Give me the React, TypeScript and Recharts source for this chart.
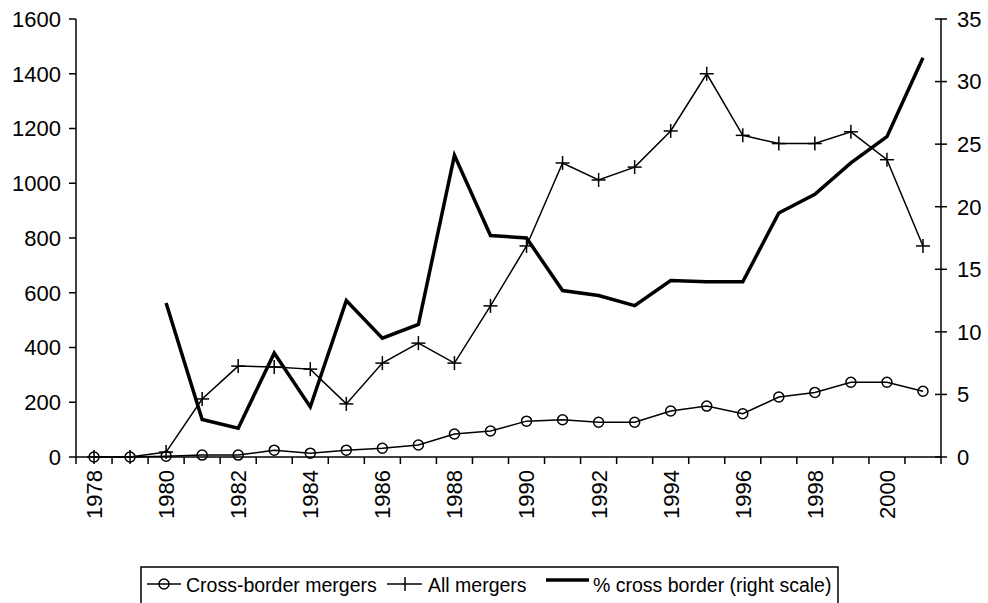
import { ComposedChart, Line, XAxis, YAxis } from "recharts";

const years = [
  1978, 1979, 1980, 1981, 1982, 1983, 1984, 1985, 1986, 1987, 1988, 1989,
  1990, 1991, 1992, 1993, 1994, 1995, 1996, 1997, 1998, 1999, 2000, 2001,
];
const crossBorderMergers = [
  0, 0, 3, 7, 7, 25, 14, 25, 32, 44, 84, 95, 131, 136, 127, 127, 168, 186, 158,
  219, 236, 273, 273, 240,
];
const allMergers = [
  0, 0, 18, 212, 332, 329, 321, 194, 343, 416, 343, 552, 771, 1074, 1012, 1059,
  1191, 1400, 1175, 1145, 1145, 1188, 1086, 771,
];
const pctCrossBorder = [
  null, null, 12.3, 3.0, 2.3, 8.3, 4.0, 12.5, 9.5, 10.6, 24.1, 17.7, 17.5, 13.3,
  12.9, 12.1, 14.1, 14.0, 14.0, 19.5, 21.0, 23.5, 25.6, 31.9,
];
const leftTicks = [0, 200, 400, 600, 800, 1000, 1200, 1400, 1600];
const rightTicks = [0, 5, 10, 15, 20, 25, 30, 35];
const yearLabels = [1978, 1980, 1982, 1984, 1986, 1988, 1990, 1992, 1994, 1996, 1998, 2000];
// category boundaries, where Excel puts the tick marks
const yearBounds = [...years.map((y) => y - 0.5), 2001.5];

const data = years.map((year, i) => ({
  year,
  cross: crossBorderMergers[i],
  all: allMergers[i],
  pct: pctCrossBorder[i],
}));

const FONT = "'Liberation Sans', Arial, sans-serif";
const AXIS_FONT = 22;
const PLOT_BOTTOM = 457;

function YearTick(props: any) {
  const { x, payload } = props;
  const v = payload.value;
  if (v % 1 !== 0) {
    return <line x1={x} x2={x} y1={PLOT_BOTTOM} y2={PLOT_BOTTOM + 7} stroke="#000" strokeWidth={1.5} />;
  }
  const ty = PLOT_BOTTOM + 13;
  return (
    <text
      x={x}
      y={ty}
      transform={`rotate(-90, ${x}, ${ty})`}
      textAnchor="end"
      dy="0.36em"
      fontSize={AXIS_FONT}
      fontFamily={FONT}
      fill="#000"
    >
      {v}
    </text>
  );
}

function RightTick(props: any) {
  const { y, payload } = props;
  const ax = 941;
  return (
    <g>
      <line x1={ax - 6} x2={ax + 6} y1={y} y2={y} stroke="#000" strokeWidth={1.5} />
      <text x={ax + 16} y={y} dy="0.36em" fontSize={AXIS_FONT} fontFamily={FONT} fill="#000">
        {payload.value}
      </text>
    </g>
  );
}

function CrossDot(props: any) {
  const { cx, cy, index } = props;
  if (cx == null || cy == null) return <g key={`x-${index}`} />;
  return (
    <g key={`x-${index}`} stroke="#000" strokeWidth={1.5}>
      <line x1={cx - 7} x2={cx + 7} y1={cy} y2={cy} />
      <line x1={cx} x2={cx} y1={cy - 7} y2={cy + 7} />
    </g>
  );
}

function LegendBox() {
  const ty = 592;
  const sy = 584;
  const fs = 19.5;
  return (
    <svg width={988} height={603} style={{ position: "absolute", left: 0, top: 0, pointerEvents: "none" }}>
      <rect x={141} y={567} width={697} height={60} fill="#fff" stroke="#000" strokeWidth={1.5} />
      <line x1={147} x2={181} y1={sy} y2={sy} stroke="#000" strokeWidth={1.5} />
      <circle cx={164} cy={sy} r={5} fill="none" stroke="#000" strokeWidth={1.5} />
      <text x={186} y={ty} fontSize={fs} fontFamily={FONT}>Cross-border mergers</text>
      <line x1={387} x2={422} y1={sy} y2={sy} stroke="#000" strokeWidth={1.5} />
      <line x1={405} x2={405} y1={sy - 7} y2={sy + 7} stroke="#000" strokeWidth={1.5} />
      <text x={428} y={ty} fontSize={fs} fontFamily={FONT}>All mergers</text>
      <line x1={546} x2={589} y1={sy - 4} y2={sy - 4} stroke="#000" strokeWidth={3.5} />
      <text x={593} y={ty} fontSize={fs} fontFamily={FONT}>% cross border (right scale)</text>
    </svg>
  );
}

export default function App() {
  return (
    <div style={{ position: "absolute", left: 0, top: 0, width: 988, height: 603, background: "#fff" }}>
      <ComposedChart width={988} height={603} data={data} margin={{ top: 19, right: 0, bottom: 0, left: 0 }}>
        <XAxis
          dataKey="year"
          type="number"
          domain={[1977.5, 2001.5]}
          ticks={[...yearBounds, ...yearLabels]}
          interval={0}
          allowDecimals
          height={146}
          tickLine={false}
          axisLine={{ stroke: "#000", strokeWidth: 1.5 }}
          tick={<YearTick />}
        />
        <YAxis
          yAxisId="left"
          width={76}
          domain={[0, 1600]}
          ticks={leftTicks}
          interval={0}
          tickSize={7}
          tickMargin={8}
          axisLine={{ stroke: "#000", strokeWidth: 1.5 }}
          tickLine={{ stroke: "#000", strokeWidth: 1.5 }}
          tick={{ fill: "#000", fontSize: AXIS_FONT, fontFamily: FONT }}
        />
        <YAxis
          yAxisId="right"
          orientation="right"
          width={47}
          domain={[0, 35]}
          ticks={rightTicks}
          interval={0}
          tickLine={false}
          axisLine={{ stroke: "#000", strokeWidth: 1.5 }}
          tick={<RightTick />}
        />
        <Line
          yAxisId="right"
          dataKey="pct"
          stroke="#000"
          strokeWidth={3.5}
          dot={false}
          activeDot={false}
          isAnimationActive={false}
        />
        <Line
          yAxisId="left"
          dataKey="all"
          stroke="#000"
          strokeWidth={1.5}
          dot={<CrossDot />}
          activeDot={false}
          isAnimationActive={false}
        />
        <Line
          yAxisId="left"
          dataKey="cross"
          stroke="#000"
          strokeWidth={1.5}
          dot={{ r: 5, fill: "none", stroke: "#000", strokeWidth: 1.5 }}
          activeDot={false}
          isAnimationActive={false}
        />
      </ComposedChart>
      <LegendBox />
    </div>
  );
}
